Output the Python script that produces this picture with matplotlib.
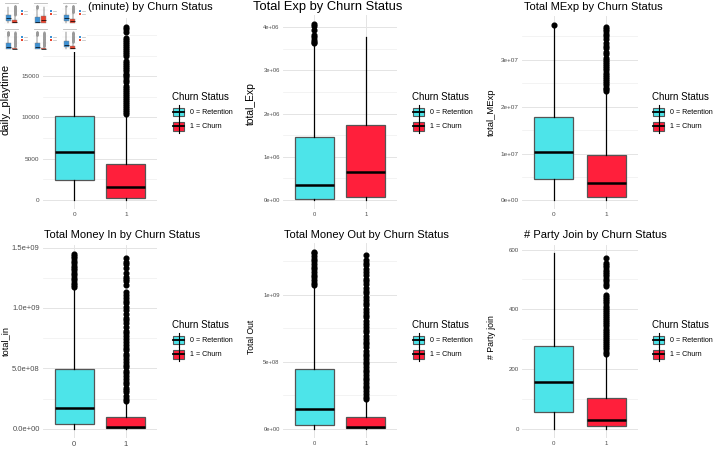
import numpy as np
import matplotlib
matplotlib.use("Agg")
import matplotlib.pyplot as plt
from matplotlib.patches import Rectangle
from matplotlib.lines import Line2D

plt.rcParams['font.family'] = ['Liberation Sans', 'DejaVu Sans']

W, H = 715, 449

groups = ["0", "1"]
legend_title = "Churn Status"
legend_labels = ["0 = Retention", "1 = Churn"]
fill_colors = ["#4de4e9", "#ff1f3b"]
thumb_colors = ["#3d91d4", "#e8452f"]

# ---- daily playtime (minutes)
play_q1 = [2380, 280]
play_med = [5800, 1530]
play_q3 = [10200, 4320]
play_whislo = [0, 0]
play_whishi = [20000, 10300]
play_out0 = []
play_out1 = [10400, 10650, 10900, 11150, 11350, 11600, 11850, 12100, 12300, 12550,
             12800, 13050, 13300, 13550, 13850, 14350, 14600, 14850, 15100, 15300,
             15600, 15850, 16100, 16350, 16600, 16900, 17400, 17650, 17900, 18150,
             18400, 18650, 18900, 19150, 19400, 19600, 20400, 20700, 21000]

# ---- total exp (x1e6)
exp_q1 = [0.02, 0.07]
exp_med = [0.35, 0.65]
exp_q3 = [1.46, 1.74]
exp_whislo = [0, 0]
exp_whishi = [3.58, 3.77]
exp_out0 = [3.63, 3.67, 3.71, 3.78, 3.82, 3.94, 4.03, 4.08]
exp_out1 = []

# ---- total MExp (x1e7)
mexp_q1 = [0.463, 0.08]
mexp_med = [1.03, 0.37]
mexp_q3 = [1.77, 0.96]
mexp_whislo = [0, 0]
mexp_whishi = [3.70, 2.30]
mexp_out0 = [3.75]
mexp_out1 = [2.33, 2.37, 2.41, 2.46, 2.50, 2.55, 2.59, 2.64, 2.68, 2.73, 2.78, 2.82,
             2.87, 2.91, 2.96, 3.00, 3.04, 3.12, 3.17, 3.25, 3.30, 3.37, 3.44, 3.50,
             3.56, 3.62, 3.66, 3.70]

# ---- total money in (x1e9)
min_q1 = [0.036, 0.003]
min_med = [0.168, 0.016]
min_q3 = [0.494, 0.094]
min_whislo = [0, 0]
min_whishi = [1.16, 0.223]
min_out0 = [1.17, 1.19, 1.21, 1.23, 1.25, 1.27, 1.29, 1.31, 1.33, 1.35, 1.37, 1.39,
            1.41, 1.43, 1.45]
min_out1 = [0.23, 0.25, 0.27, 0.30, 0.32, 0.34, 0.37, 0.39, 0.41, 0.44, 0.46, 0.48,
            0.51, 0.53, 0.55, 0.58, 0.60, 0.62, 0.65, 0.67, 0.69, 0.72, 0.74, 0.77,
            0.79, 0.81, 0.84, 0.875, 0.90, 0.92, 0.95, 0.98, 1.01, 1.04, 1.06, 1.08,
            1.11, 1.13, 1.19, 1.22, 1.24, 1.26, 1.29, 1.33, 1.36, 1.38, 1.41]

# ---- total money out (x1e9)
mout_q1 = [0.025, 0.002]
mout_med = [0.15, 0.015]
mout_q3 = [0.444, 0.085]
mout_whislo = [0, 0]
mout_whishi = [1.062, 0.21]
mout_out0 = [1.07, 1.09, 1.11, 1.13, 1.15, 1.17, 1.19, 1.21, 1.23, 1.25, 1.27, 1.29,
             1.31, 1.32]
mout_out1 = [0.22, 0.24, 0.26, 0.28, 0.30, 0.32, 0.34, 0.36, 0.38, 0.40, 0.42, 0.44,
             0.46, 0.48, 0.50, 0.52, 0.54, 0.56, 0.58, 0.61, 0.63, 0.65, 0.67, 0.69,
             0.72, 0.74, 0.76, 0.78, 0.80, 0.83, 0.85, 0.87, 0.89, 0.92, 0.94, 0.96,
             0.98, 1.01, 1.03, 1.05, 1.08, 1.10, 1.12, 1.15, 1.17, 1.19, 1.22, 1.24,
             1.26, 1.30]

# ---- party join
party_q1 = [57, 9]
party_med = [157, 31]
party_q3 = [279, 105]
party_whislo = [0, 0]
party_whishi = [587, 248]
party_out0 = []
party_out1 = [252, 259, 266, 273, 280, 287, 294, 301, 308, 315, 322, 329, 336, 343,
              350, 357, 364, 371, 378, 385, 392, 399, 406, 413, 420, 427, 434, 441,
              448, 478, 486, 494, 500, 511, 518, 526, 533, 541, 548, 555, 572]

titles = ["(minute) by Churn Status", "Total Exp by Churn Status",
          "Total MExp by Churn Status", "Total Money In by Churn Status",
          "Total Money Out by Churn Status", "# Party Join by Churn Status"]
ylabels = ["daily_playtime", "total_Exp", "total_MExp", "total_in", "Total Out",
           "# Party join"]

yticks = [[0, 5000, 10000, 15000],
          [0, 1e6, 2e6, 3e6, 4e6],
          [0, 1e7, 2e7, 3e7],
          [0, 5e8, 1e9, 1.5e9],
          [0, 5e8, 1e9],
          [0, 200, 400, 600]]
ytick_labels = [["0", "5000", "10000", "15000"],
                ["0e+00", "1e+06", "2e+06", "3e+06", "4e+06"],
                ["0e+00", "1e+07", "2e+07", "3e+07"],
                ["0.0e+00", "5.0e+08", "1.0e+09", "1.5e+09"],
                ["0e+00", "5e+08", "1e+09"],
                ["0", "200", "400", "600"]]
yminor = [[2500, 7500, 12500, 17500, 20000],
          [0.5e6, 1.5e6, 2.5e6, 3.5e6],
          [0.5e7, 1.5e7, 2.5e7, 3.5e7],
          [2.5e8, 7.5e8, 1.25e9],
          [2.5e8, 7.5e8, 1.25e9],
          [100, 300, 500]]

panels = [
    (play_q1, play_med, play_q3, play_whislo, play_whishi, [play_out0, play_out1], 1),
    (exp_q1, exp_med, exp_q3, exp_whislo, exp_whishi, [exp_out0, exp_out1], 1e6),
    (mexp_q1, mexp_med, mexp_q3, mexp_whislo, mexp_whishi, [mexp_out0, mexp_out1], 1e7),
    (min_q1, min_med, min_q3, min_whislo, min_whishi, [min_out0, min_out1], 1e9),
    (mout_q1, mout_med, mout_q3, mout_whislo, mout_whishi, [mout_out0, mout_out1], 1e9),
    (party_q1, party_med, party_q3, party_whislo, party_whishi, [party_out0, party_out1], 1),
]

# layout in pixels (left, top, right, bottom)
rects = [(43, 18, 157, 208.7), (283, 15, 397, 208.8), (522, 16, 638, 209.1),
         (43, 244.8, 157, 437.5), (283, 243, 397, 437.5), (522, 244.7, 638, 437.8)]
ylims = [(-1050, 22050), (-0.204e6, 4.284e6), (-0.1875e7, 3.9375e7),
         (-0.0725e9, 1.5225e9), (-0.066e9, 1.386e9), (-29.35, 616.35)]
title_pos = [(88, 7), (253, 7), (524, 7), (44, 235), (284, 235), (524, 235)]
title_size = [8.0, 9.3, 8.0, 8.0, 8.0, 8.0]
ylabel_pos = [(6, 99), (251, 104), (491, 112), (6, 341), (251, 337), (491, 337)]
ylabel_size = [8.0, 7.4, 6.8, 6.6, 6.2, 6.3]
tick_size = [4.6, 4.2, 4.6, 5.5, 4.2, 4.4]
legend_pos = [(172, 97), (412, 97), (652, 97), (172, 325), (412, 325), (652, 325)]

fig = plt.figure(figsize=(W / 100, H / 100), dpi=100)
fig.patch.set_facecolor("white")


def fx(x):
    return x / W


def fy(y):
    return 1 - y / H


def make_stats(q1, med, q3, lo, hi, fliers, scale):
    out = []
    for i in range(2):
        out.append(dict(q1=q1[i] * scale, med=med[i] * scale, q3=q3[i] * scale,
                        whislo=lo[i] * scale, whishi=hi[i] * scale,
                        fliers=np.array(fliers[i]) * scale, label=groups[i]))
    return out


def draw_boxes(ax, stats, colors, lw_box, lw_med, msize, edge, flier_col):
    b = ax.bxp(stats, positions=[1, 2], widths=0.75, patch_artist=True,
               showcaps=False,
               boxprops=dict(edgecolor=edge, linewidth=lw_box),
               whiskerprops=dict(color="black", linewidth=lw_box),
               medianprops=dict(color="black", linewidth=lw_med),
               flierprops=dict(marker="o", markerfacecolor=flier_col,
                               markeredgecolor=flier_col, markersize=msize,
                               linestyle="none"))
    for patch, c in zip(b["boxes"], colors):
        patch.set_facecolor(c)
        patch.set_zorder(2)
    return b


for k, p in enumerate(panels):
    q1, med, q3, lo, hi, fl, scale = p
    l, t, r, btm = rects[k]
    ax = fig.add_axes([fx(l), fy(btm), fx(r - l), (btm - t) / H])
    draw_boxes(ax, make_stats(q1, med, q3, lo, hi, fl, scale), fill_colors,
               0.9, 1.8, 3.4, "#555555", "black")
    ax.set_xlim(0.4, 2.6)
    ax.set_ylim(*ylims[k])
    ax.set_xticks([1, 2])
    ax.set_xticklabels(groups)
    ax.set_yticks(yticks[k])
    ax.set_yticklabels(ytick_labels[k])
    ax.set_yticks(yminor[k], minor=True)
    ax.grid(True, which="major", color="#e4e4e4", linewidth=0.7)
    ax.grid(True, which="minor", axis="y", color="#efefef", linewidth=0.5)
    ax.set_axisbelow(True)
    for s in ax.spines.values():
        s.set_visible(False)
    ax.tick_params(axis="both", which="both", length=0, labelsize=tick_size[k],
                   labelcolor="#4d4d4d", pad=2.4)

    tx, ty = title_pos[k]
    fig.text(fx(tx), fy(ty), titles[k], fontsize=title_size[k], ha="left", va="center")
    lx, ly = ylabel_pos[k]
    fig.text(fx(lx), fy(ly), ylabels[k], fontsize=ylabel_size[k], rotation=90,
             ha="center", va="center")

    gx, gy = legend_pos[k]
    fig.text(fx(gx), fy(gy), legend_title, fontsize=7.0, ha="left", va="center")
    for i in range(2):
        cy = gy + 15 + i * 14.3
        kx0, kx1 = gx + 1, gx + 12
        fig.add_artist(Line2D([fx((kx0 + kx1) / 2)] * 2, [fy(cy - 7), fy(cy + 7)],
                              color="black", linewidth=0.8))
        fig.add_artist(Rectangle((fx(kx0), fy(cy + 4.3)), fx(kx1 - kx0), 8.6 / H,
                                 facecolor=fill_colors[i], edgecolor="#555555",
                                 linewidth=0.8))
        fig.add_artist(Line2D([fx(kx0), fx(kx1)], [fy(cy), fy(cy)], color="black",
                              linewidth=1.3))
        fig.text(fx(gx + 18), fy(cy), legend_labels[i], fontsize=5.1,
                 ha="left", va="center")

# small thumbnail pasted over the top-left corner
fig.add_artist(Rectangle((0, fy(52)), fx(87), 52 / H, facecolor="white",
                         edgecolor="none", zorder=5))
for k, p in enumerate(panels):
    q1, med, q3, lo, hi, fl, scale = p
    c, rr = k % 3, k // 3
    x0, y0 = c * 29, rr * 26
    ax = fig.add_axes([fx(x0 + 4), fy(y0 + 24), fx(15), 19 / H])
    ax.set_zorder(6)
    draw_boxes(ax, make_stats(q1, med, q3, lo, hi, fl, scale), thumb_colors,
               0.3, 0.5, 0.5, "#888888", "#9a9a9a")
    ax.set_xlim(0.4, 2.6)
    ax.set_ylim(*ylims[k])
    ax.set_xticks([])
    ax.set_yticks(yticks[k])
    ax.set_yticklabels([])
    ax.grid(True, axis="y", color="#eeeeee", linewidth=0.3)
    ax.set_axisbelow(True)
    ax.tick_params(length=0)
    for s in ax.spines.values():
        s.set_visible(False)
    fig.add_artist(Line2D([fx(x0 + 5), fx(x0 + 18)], [fy(y0 + 2.5)] * 2,
                          color="#bbbbbb", linewidth=0.6, zorder=7))
    for i in range(2):
        fig.add_artist(Rectangle((fx(x0 + 21), fy(y0 + 12 + i * 3)), fx(1.8), 1.8 / H,
                                 facecolor=thumb_colors[i], edgecolor="none", zorder=7))
        fig.add_artist(Line2D([fx(x0 + 23.5), fx(x0 + 27)], [fy(y0 + 11 + i * 3)] * 2,
                              color="#bbbbbb", linewidth=0.5, zorder=7))

fig.savefig("out.png", dpi=100)
